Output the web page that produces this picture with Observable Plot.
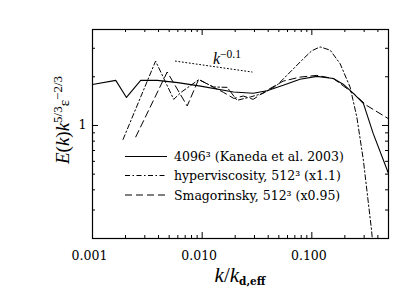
<!DOCTYPE html>
<html><head><meta charset="utf-8">
<script src="https://cdn.jsdelivr.net/npm/d3@7"></script>
<script src="https://cdn.jsdelivr.net/npm/@observablehq/plot@0.6"></script>
<style>html,body{margin:0;padding:0;background:#fff;} #c{width:415px;height:297px;}</style>
</head><body><div id="c"></div>
<script>
// Kaneda et al. 2003, 4096^3 (solid)
const kanedaK = [0.001, 0.00163, 0.00204, 0.00275, 0.0039, 0.006, 0.00966, 0.0193, 0.0292, 0.039, 0.0548, 0.078, 0.111, 0.157, 0.193, 0.239, 0.295, 0.363, 0.5];
const kanedaE = [1.79, 1.90, 1.49, 1.90, 1.90, 1.84, 1.75, 1.61, 1.58, 1.64, 1.77, 1.93, 2.01, 1.95, 1.80, 1.58, 1.37, 0.89, 0.505];
// hyperviscosity 512^3 (x1.1) (dash-dot)
const hyperK = [0.0019, 0.00376, 0.0055, 0.0064, 0.0093, 0.0127, 0.0169, 0.0208, 0.0275, 0.036, 0.048, 0.0635, 0.084, 0.1, 0.119, 0.147, 0.181, 0.223, 0.257, 0.295, 0.35, 0.37];
const hyperE = [0.82, 2.5, 1.45, 1.6, 1.92, 1.73, 1.72, 1.43, 1.50, 1.58, 1.77, 2.14, 2.59, 2.9, 3.06, 2.92, 2.41, 1.73, 1.13, 0.61, 0.226, 0.15];
// Smagorinsky 512^3 (x0.95) (dashed)
const smagK = [0.00248, 0.0048, 0.0073, 0.0093, 0.0127, 0.0157, 0.0194, 0.0237, 0.0292, 0.039, 0.0548, 0.078, 0.111, 0.157, 0.239, 0.316, 0.5];
const smagE = [0.85, 2.14, 1.32, 1.93, 1.72, 1.6, 1.47, 1.52, 1.45, 1.65, 1.88, 1.99, 2.04, 1.95, 1.58, 1.33, 1.10];
// k^-0.1 reference line (dotted)
const refK = [0.0057, 0.0285];
const refE = [2.5, 2.14];
// ticks
const xMajor = [0.001, 0.01, 0.1];
const xMinor = [0.002,0.003,0.004,0.005,0.006,0.007,0.008,0.009,0.02,0.03,0.04,0.05,0.06,0.07,0.08,0.09,0.2,0.3,0.4,0.5];
const yMajor = [1];
const yMinor = [0.2,0.3,0.4,0.5,0.6,0.7,0.8,0.9,2,3];
const xTickLabels = new Map([[0.001, "0.001"], [0.01, "0.010"], [0.1, "0.100"]]);
const yTickLabels = new Map([[1, "1"]]);
const legendLabels = ["4096³ (Kaneda et al. 2003)", "hyperviscosity, 512³ (x1.1)", "Smagorinsky, 512³ (x0.95)"];
const dashes = [null, "5,2.5,1.5,2.5", "7,4"];

const toRows = (ks, es) => ks.map((k, i) => ({k, e: es[i]}));
const W = 415, H = 297, mL = 92, mR = 27, mT = 29, mB = 59;
const iW = W - mL - mR, iH = H - mT - mB;
const maj = 6, mnr = 3;

const chart = Plot.plot({
  width: W, height: H,
  marginLeft: mL, marginRight: mR, marginTop: mT, marginBottom: mB,
  x: {type: "log", domain: [0.001, 0.5]},
  y: {type: "log", domain: [0.2, 3.92]},
  style: {fontFamily: "DejaVu Serif", fontSize: "12px", color: "black", background: "white"},
  marks: [
    Plot.ruleX(xMajor, {x: d => d, insetTop: iH - maj, stroke: "black"}),
    Plot.ruleX(xMajor, {x: d => d, insetBottom: iH - maj, stroke: "black"}),
    Plot.ruleX(xMinor, {x: d => d, insetTop: iH - mnr, stroke: "black"}),
    Plot.ruleX(xMinor, {x: d => d, insetBottom: iH - mnr, stroke: "black"}),
    Plot.ruleY(yMajor, {y: d => d, insetRight: iW - maj, stroke: "black"}),
    Plot.ruleY(yMajor, {y: d => d, insetLeft: iW - maj, stroke: "black"}),
    Plot.ruleY(yMinor, {y: d => d, insetRight: iW - mnr, stroke: "black"}),
    Plot.ruleY(yMinor, {y: d => d, insetLeft: iW - mnr, stroke: "black"}),
    Plot.axisX(xMajor, {tickSize: 0, tickPadding: 13, dx: -3, label: null,
      tickFormat: d => xTickLabels.get(d), fontSize: 12.5}),
    Plot.axisY(yMajor, {tickSize: 0, tickPadding: 6, label: null,
      tickFormat: d => yTickLabels.get(d), fontSize: 12.5}),
    Plot.line(toRows(refK, refE), {x: "k", y: "e", stroke: "black", strokeWidth: 1, strokeDasharray: "1,2.5"}),
    Plot.line(toRows(kanedaK, kanedaE), {x: "k", y: "e", stroke: "black", strokeWidth: 1.1}),
    Plot.line(toRows(hyperK, hyperE), {x: "k", y: "e", stroke: "black", strokeWidth: 1, strokeDasharray: dashes[1], clip: true}),
    Plot.line(toRows(smagK, smagE), {x: "k", y: "e", stroke: "black", strokeWidth: 1, strokeDasharray: dashes[2], clip: true}),
    Plot.frame({stroke: "black", strokeWidth: 1.2})
  ]
});
document.getElementById("c").appendChild(chart);

const svg = d3.select(chart);
const ns = svg.append("g").attr("fill", "black").attr("text-anchor", "start");

// legend
const rowsY = [156.5, 175.5, 195];
legendLabels.forEach((lab, i) => {
  const l = ns.append("line").attr("x1", 125).attr("x2", 167).attr("y1", rowsY[i]).attr("y2", rowsY[i])
    .attr("stroke", "black").attr("stroke-width", 1);
  if (dashes[i]) l.attr("stroke-dasharray", dashes[i]);
  ns.append("text").attr("x", 174).attr("y", rowsY[i] + 4.5).attr("text-anchor", "start")
    .attr("font-family", "DejaVu Serif").attr("font-size", 12.5).text(lab);
});

// k^-0.1 label
const kl = ns.append("text").attr("x", 213).attr("y", 64).attr("text-anchor", "start")
  .attr("font-family", "Liberation Serif").attr("font-size", 16);
kl.append("tspan").attr("font-style", "italic").text("k");
kl.append("tspan").attr("dy", -6).attr("font-size", 11.5).text("−0.1");

// x axis title
const xt = ns.append("text").attr("x", 240).attr("y", 282).attr("text-anchor", "middle")
  .attr("font-family", "Liberation Serif").attr("font-size", 21);
xt.append("tspan").attr("font-style", "italic").text("k");
xt.append("tspan").text("/");
xt.append("tspan").attr("font-style", "italic").text("k");
xt.append("tspan").attr("dy", 3).attr("font-size", 10.5).attr("font-weight", "bold").attr("font-family", "DejaVu Serif").text("d,eff");

// y axis title
const yt = ns.append("text").attr("transform", "translate(69,120) rotate(-90)").attr("text-anchor", "middle")
  .attr("font-family", "Liberation Serif").attr("font-size", 19);
yt.append("tspan").attr("font-style", "italic").text("E");
yt.append("tspan").text("(");
yt.append("tspan").attr("font-style", "italic").text("k");
yt.append("tspan").text(")");
yt.append("tspan").attr("font-style", "italic").text("k");
yt.append("tspan").attr("dy", -7).attr("font-size", 13).text("5/3");
yt.append("tspan").attr("dy", 7).attr("font-size", 15).text("ε");
yt.append("tspan").attr("dy", -7).attr("font-size", 13).text("−2/3");
</script>
</body></html>
